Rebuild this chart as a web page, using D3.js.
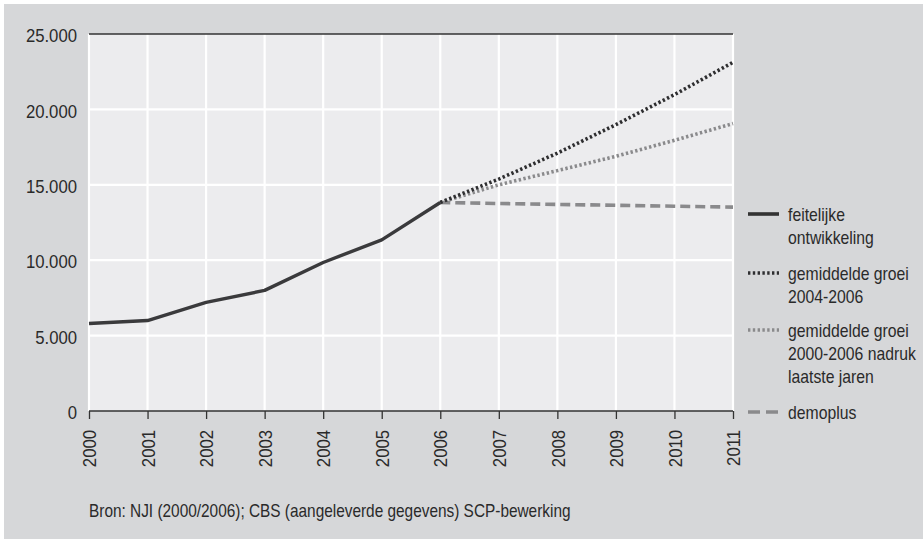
<!DOCTYPE html>
<html><head><meta charset="utf-8">
<script src="https://cdn.jsdelivr.net/npm/d3@7"></script>
<style>
html,body{margin:0;padding:0;background:#fff;}
svg{display:block;}
text{font-family:"Liberation Sans",Arial,sans-serif;fill:#2a2a2a;}
</style></head><body>
<svg id="c" width="923" height="542"></svg>
<script>
const years = [2000,2001,2002,2003,2004,2005,2006,2007,2008,2009,2010,2011];
const actualYears = [2000,2001,2002,2003,2004,2005,2006];
const actualValues = [5800,6000,7200,8000,9850,11350,13830];
const projYears = [2006,2007,2008,2009,2010,2011];
const growth0406 = [13830,15380,17100,18990,20980,23120];
const growth0006 = [13830,15000,15940,16890,17950,19060];
const demoplus = [13830,13760,13700,13640,13580,13520];
const yTicks = [0,5000,10000,15000,20000,25000];
const legendLabels = [["feitelijke","ontwikkeling"],["gemiddelde groei","2004-2006"],["gemiddelde groei","2000-2006 nadruk","laatste jaren"],["demoplus"]];
const source = "Bron: NJI (2000/2006); CBS (aangeleverde gegevens) SCP-bewerking";

const SX = 0.83, SXD = 0.88;
const svg = d3.select("#c");
svg.append("rect").attr("x",4).attr("y",4).attr("width",919).attr("height",535).attr("fill","#d6d7d9");

const L=89,R=733,T=34,B=411;
const x = d3.scaleLinear().domain([2000,2011]).range([L,R]);
const y = d3.scaleLinear().domain([0,25000]).range([B,T]);

svg.append("rect").attr("x",L).attr("y",T).attr("width",R-L).attr("height",B-T).attr("fill","#ececee");

svg.append("g").selectAll("line").data(yTicks.slice(1,-1)).join("line")
  .attr("x1",L).attr("x2",R).attr("y1",d=>y(d)).attr("y2",d=>y(d))
  .attr("stroke","#fff").attr("stroke-width",2.2);
svg.append("g").selectAll("line").data(years).join("line")
  .attr("x1",d=>x(d)).attr("x2",d=>x(d)).attr("y1",T).attr("y2",B)
  .attr("stroke","#fff").attr("stroke-width",2.2);

svg.append("line").attr("x1",L).attr("x2",R).attr("y1",y(25000)).attr("y2",y(25000))
  .attr("stroke","#333").attr("stroke-width",1.5);

const ya = svg.append("g").attr("transform",`translate(${L},0)`)
  .call(d3.axisLeft(y).tickValues(yTicks).tickSize(0).tickFormat(d=>d3.format(",")(d).replace(/,/g,".")));
ya.select(".domain").remove();
ya.selectAll("text").attr("font-size",19).attr("font-family",null).attr("fill","#2a2a2a")
  .attr("x",0).attr("dy","0.4em").attr("transform",`translate(-12,0) scale(${SXD},1)`);

const xa = svg.append("g").attr("transform",`translate(0,${B})`)
  .call(d3.axisBottom(x).tickValues(years).tickSize(8).tickFormat(d3.format("d")));
xa.select(".domain").attr("stroke","#333").attr("stroke-width",1.5).attr("d",`M${L},0H${R}`);
xa.selectAll(".tick line").attr("stroke","#333").attr("stroke-width",1.3);
xa.selectAll("text").attr("font-size",19).attr("font-family",null).attr("fill","#2a2a2a")
  .attr("transform",`rotate(-90) translate(-19,0) scale(${SXD},1)`).attr("text-anchor","end").attr("x",0).attr("y",0).attr("dy","0.35em");

const line = d3.line().x(d=>x(d[0])).y(d=>y(d[1]));
const zip = (a,b)=>a.map((v,i)=>[v,b[i]]);

svg.append("path").datum(zip(projYears,demoplus)).attr("d",line).attr("fill","none")
  .attr("stroke","#8a8a8c").attr("stroke-width",3.6).attr("stroke-dasharray","10,5");
svg.append("path").datum(zip(projYears,growth0006)).attr("d",line).attr("fill","none")
  .attr("stroke","#8a8a8c").attr("stroke-width",3.6).attr("stroke-dasharray","2.4,2.4");
svg.append("path").datum(zip(projYears,growth0406)).attr("d",line).attr("fill","none")
  .attr("stroke","#2e2e30").attr("stroke-width",3.6).attr("stroke-dasharray","2.4,2.4");
svg.append("path").datum(zip(actualYears,actualValues)).attr("d",line).attr("fill","none")
  .attr("stroke","#3a3a3c").attr("stroke-width",3.4).attr("stroke-linejoin","round");

const legY = [214,273,330,412];
const legStyles = [
  {c:"#333",d:null},{c:"#2e2e30",d:"2.4,2.4"},{c:"#8a8a8c",d:"2.4,2.4"},{c:"#8a8a8c",d:"12,6"}];
const lg = svg.append("g");
legendLabels.forEach((lab,i)=>{
  lg.append("line").attr("x1",748).attr("x2",779).attr("y1",legY[i]).attr("y2",legY[i])
    .attr("stroke",legStyles[i].c).attr("stroke-width",3.6).attr("stroke-dasharray",legStyles[i].d);
  const t = lg.append("text").attr("transform",`translate(788,${legY[i]}) scale(${SX},1)`).attr("font-size",19);
  lab.forEach((s,j)=>t.append("tspan").attr("x",0).attr("y",j*23).attr("dy","0.35em").text(s));
});

svg.append("text").attr("transform",`translate(89,517) scale(${SXD},1)`).attr("font-size",17.5).text(source);
</script>
</body></html>
